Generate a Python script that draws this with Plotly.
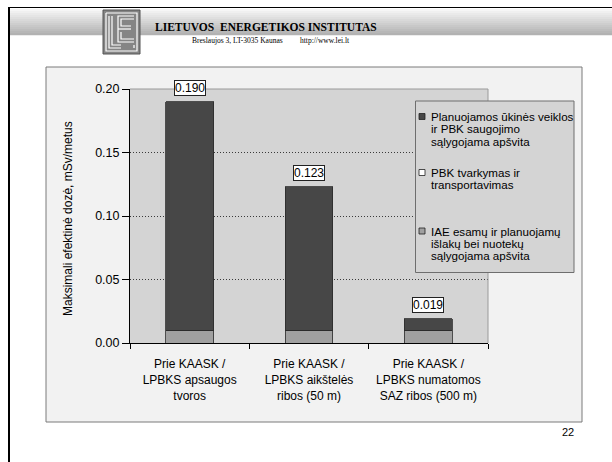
import plotly.graph_objects as go

# ---------------- data ----------------
categories = [
    "Prie KAASK /<br>LPBKS apsaugos<br>tvoros",
    "Prie KAASK /<br>LPBKS aikštelės<br>ribos (50 m)",
    "Prie KAASK /<br>LPBKS numatomos<br>SAZ ribos (500 m)",
]
iae_islakos = [0.010, 0.010, 0.010]          # IAE esamų ir planuojamų išlakų ...
pbk_tvarkymas = [0.000, 0.000, 0.000]        # PBK tvarkymas ir transportavimas
planuojamos = [0.180, 0.113, 0.009]          # Planuojamos ūkinės veiklos ...
series_names = [
    "IAE esamų ir planuojamų išlakų bei nuotekų sąlygojama apšvita",
    "PBK tvarkymas ir transportavimas",
    "Planuojamos ūkinės veiklos ir PBK saugojimo sąlygojama apšvita",
]
legend_lines = [
    ["Planuojamos ūkinės veiklos", "ir PBK saugojimo", "sąlygojama apšvita"],
    ["PBK tvarkymas ir", "transportavimas"],
    ["IAE esamų ir planuojamų", "išlakų bei nuotekų", "sąlygojama apšvita"],
]
y_ticks = [0.00, 0.05, 0.10, 0.15, 0.20]
y_title = "Maksimali efektinė dozė, mSv/metus"
header_title = "LIETUVOS  ENERGETIKOS INSTITUTAS"
header_addr = "Breslaujos 3, LT-3035 Kaunas"
header_url = "http://www.lei.lt"
page_no = "22"

# ---------------- style ----------------
W, H = 612, 462
L, R, T, B = 130, 488, 89, 343
DARK = "#474747"
GREY = "#a0a0a0"
WHITE = "#ffffff"
PLOT_BG = "#d4d4d4"
BOX_BG = "#f2f2f2"
SANS = "Liberation Sans, Arial, sans-serif"
SERIF = "Liberation Serif, Times New Roman, serif"


def px(x):
    return (x - L) / (R - L)


def py(y):
    return (B - y) / (B - T)


fig = go.Figure()
colors = [GREY, WHITE, DARK]
for name, vals, col in zip(series_names, [iae_islakos, pbk_tvarkymas, planuojamos], colors):
    fig.add_trace(go.Bar(
        x=categories, y=vals, name=name,
        marker=dict(color=col, line=dict(color="#2a2a2a", width=0.8)),
        hoverinfo="skip",
    ))

totals = [a + b + c for a, b, c in zip(iae_islakos, pbk_tvarkymas, planuojamos)]

shapes = []
annotations = []

# slide frame
shapes.append(dict(type="line", xref="paper", yref="paper", x0=px(9), x1=px(9), y0=py(7), y1=py(470),
                   line=dict(color="black", width=2), layer="above"))
shapes.append(dict(type="line", xref="paper", yref="paper", x0=px(8), x1=px(620), y0=py(7.5), y1=py(7.5),
                   line=dict(color="black", width=1), layer="above"))

# header gradient band
n = 13
top, bot = 9, 35
for i in range(n):
    y0 = top + (bot - top) * i / n
    y1 = top + (bot - top) * (i + 1) / n
    g = int(246 - (246 - 178) * i / (n - 1))
    shapes.append(dict(type="rect", xref="paper", yref="paper", x0=px(10), x1=px(620),
                       y0=py(y0), y1=py(y1 + 0.3), fillcolor=f"rgb({g},{g},{g})",
                       line=dict(width=0), layer="below"))

# logo
shapes.append(dict(type="rect", xref="paper", yref="paper", x0=px(103), x1=px(140), y0=py(10), y1=py(54),
                   fillcolor="#858585", line=dict(color="#555555", width=1), layer="above"))
logo_paths = [
    [(106, 13), (137, 13), (137, 51), (106, 51), (106, 13)],
    [(109, 16), (109, 48), (121, 48)],
    [(112, 16), (112, 45), (121, 45)],
    [(134, 16), (118, 16), (118, 42), (134, 42)],
    [(118, 29), (131, 29)],
    [(134, 19), (121, 19), (121, 26), (131, 26)],
    [(121, 32), (121, 39), (134, 39)],
    [(134, 45), (134, 48)],
]
for p in logo_paths:
    d = "M " + " L ".join(f"{px(x)},{py(y)}" for x, y in p)
    shapes.append(dict(type="path", xref="paper", yref="paper", path=d,
                       line=dict(color="white", width=1.2), layer="above"))

# chart outer box and plot area background
shapes.append(dict(type="rect", xref="paper", yref="paper", x0=px(46), x1=px(582), y0=py(67), y1=py(422),
                   fillcolor=BOX_BG, line=dict(color="#7a7a7a", width=1), layer="below"))
shapes.append(dict(type="rect", xref="paper", yref="paper", x0=0, x1=1, y0=0, y1=1,
                   fillcolor=PLOT_BG, line=dict(width=0), layer="below"))
shapes.append(dict(type="path", xref="paper", yref="paper",
                   path="M 0,1 L 1,1 L 1,0", line=dict(color="#9a9a9a", width=1), layer="above"))

# manual legend
shapes.append(dict(type="rect", xref="paper", yref="paper", x0=px(415.5), x1=px(574), y0=py(101), y1=py(272.5),
                   fillcolor=PLOT_BG, line=dict(color="#6e6e6e", width=1), layer="above"))
legend_colors = [DARK, WHITE, GREY]
legend_y = [[116.5, 128.8, 141.1], [172.5, 184.8], [231, 243.3, 255.6]]
for lines, ys, col in zip(legend_lines, legend_y, legend_colors):
    shapes.append(dict(type="rect", xref="paper", yref="paper", x0=px(419), x1=px(425),
                       y0=py(ys[0] - 3), y1=py(ys[0] + 3), fillcolor=col,
                       line=dict(color="#222222", width=0.8), layer="above"))
    for t, yy in zip(lines, ys):
        annotations.append(dict(xref="paper", yref="paper", x=px(429), y=py(yy), text=t,
                                showarrow=False, xanchor="left", yanchor="middle",
                                font=dict(family=SANS, size=11.6, color="black")))

# totals
for c, tot in zip(categories, totals):
    annotations.append(dict(x=c, y=tot, xref="x", yref="y", text=f"{tot:.3f}", showarrow=False,
                            yanchor="bottom", yshift=6, bgcolor="white", bordercolor="#222222",
                            borderwidth=1, borderpad=0,
                            font=dict(family=SANS, size=12, color="black")))

# y-axis title (rotated text)
annotations.append(dict(xref="paper", yref="paper", x=px(68), y=py(219), text=y_title,
                        showarrow=False, textangle=-90, xanchor="center", yanchor="middle",
                        font=dict(family=SANS, size=12, color="black")))

# header texts
annotations.append(dict(xref="paper", yref="paper", x=px(266), y=py(27), text=f"<b>{header_title}</b>",
                        showarrow=False, xanchor="center", yanchor="middle",
                        font=dict(family=SERIF, size=11.5, color="black")))
annotations.append(dict(xref="paper", yref="paper", x=px(190), y=py(41), text=header_addr,
                        showarrow=False, xanchor="left", yanchor="middle",
                        font=dict(family=SERIF, size=7.5, color="black")))
annotations.append(dict(xref="paper", yref="paper", x=px(298), y=py(41), text=header_url,
                        showarrow=False, xanchor="left", yanchor="middle",
                        font=dict(family=SERIF, size=7.5, color="black")))
annotations.append(dict(xref="paper", yref="paper", x=px(576), y=py(432), text=page_no,
                        showarrow=False, xanchor="right", yanchor="middle",
                        font=dict(family=SANS, size=11, color="black")))

fig.update_layout(
    width=W, height=H,
    margin=dict(l=L, r=W - R, t=T, b=H - B, pad=0),
    paper_bgcolor="white", plot_bgcolor=PLOT_BG,
    barmode="stack", bargap=0.6,
    showlegend=False,
    font=dict(family=SANS, size=12, color="black"),
    shapes=shapes, annotations=annotations,
    xaxis=dict(range=[-0.5, 2.5], showline=True, linecolor="black", linewidth=1,
               ticks="outside", tickson="boundaries", ticklen=5, tickcolor="black",
               ticklabelstandoff=10,
               showgrid=False, tickfont=dict(family=SANS, size=12, color="black"), fixedrange=True),
    yaxis=dict(range=[0, 0.2], tickvals=y_ticks, tickformat=".2f", ticks="outside", ticklen=7,
               tickcolor="black", showline=True, linecolor="black", linewidth=1,
               showgrid=True, gridcolor="#3a3a3a", griddash="1px,2px", gridwidth=1, zeroline=False,
               tickfont=dict(family=SANS, size=12.5, color="black"),
               fixedrange=True),
)

fig.write_html("out.html", post_script="document.body.style.margin='0';",
               config={"displayModeBar": False})
